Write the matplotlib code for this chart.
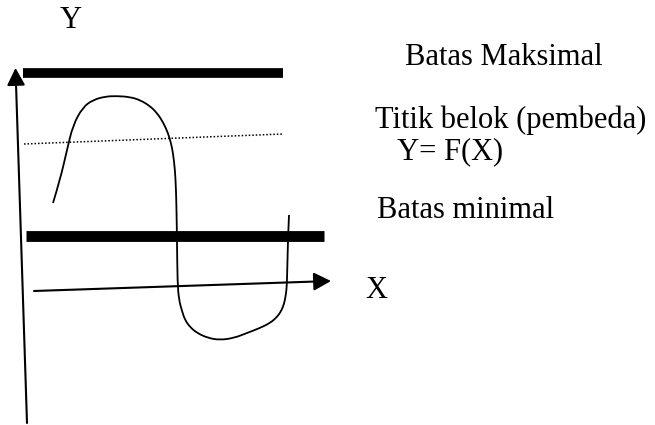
import matplotlib.pyplot as plt
from matplotlib.path import Path
from matplotlib.patches import PathPatch

# kurva Y = F(X) (koordinat, sumbu y terbalik)
curve_x = [53, 60, 67, 73, 83, 93, 105, 117, 130, 140, 150, 157, 163, 168, 171, 173, 175, 176,
           176.5, 177, 177.5, 179, 182, 185, 190, 197, 208, 220, 234, 247, 260, 270, 276,
           280, 283, 285, 286.5, 287, 287.5, 288, 289]
curve_y = [203, 180, 150, 125, 107, 100, 96.5, 96, 97, 100, 106, 113, 122, 133, 143, 153, 170, 190,
           210, 240, 283, 300, 311, 320, 327, 333, 338, 340, 338, 333, 328, 323, 318,
           313, 307, 300, 290, 280, 260, 240, 215]

# garis batas
batas_maks = ([23, 283], [72.5, 72.5])
batas_min = ([26, 324], [235.5, 235.5])
titik_belok = ([24, 283], [144, 134])

# sumbu
sumbu_y = ((27, 423), (15.5, 68))
sumbu_x = ((34, 291), (331, 281))

labels = ['Y', 'Batas Maksimal', 'Titik belok (pembeda)', '  Y= F(X)', 'Batas minimal', 'X']
label_x = [60, 405, 375, 383, 377, 365]
label_y = [28, 65, 128, 159, 218, 298]

fig = plt.figure(figsize=(6.55, 4.25), dpi=100)
ax = fig.add_axes([0, 0, 1, 1])
ax.set_xlim(0, 655)
ax.set_ylim(425, 0)
ax.axis('off')

ax.plot(batas_maks[0], batas_maks[1], color='black', lw=7, solid_capstyle='butt')
ax.plot(batas_min[0], batas_min[1], color='black', lw=7.8, solid_capstyle='butt')
ax.plot(titik_belok[0], titik_belok[1], color='black', lw=1.1, linestyle=(0, (1, 1.3)))

# kurva dihaluskan: titik bacaan sebagai titik kontrol kuadratik
pts = list(zip(curve_x, curve_y))
verts = [pts[0]]
codes = [Path.MOVETO]
for i in range(1, len(pts) - 1):
    mid = ((pts[i][0] + pts[i + 1][0]) / 2, (pts[i][1] + pts[i + 1][1]) / 2)
    verts += [pts[i], mid]
    codes += [Path.CURVE3, Path.CURVE3]
verts.append(pts[-1])
codes.append(Path.LINETO)
ax.add_patch(PathPatch(Path(verts, codes), fill=False, lw=1.3, edgecolor='black'))

for start, tip in [sumbu_y, sumbu_x]:
    ax.annotate('', xy=tip, xytext=start,
                arrowprops=dict(arrowstyle='-|>,head_length=1.05,head_width=0.55',
                                lw=1.5, color='black', shrinkA=0, shrinkB=0,
                                mutation_scale=10))

for t, x, y in zip(labels, label_x, label_y):
    ax.text(x, y, t, fontsize=22, family='Liberation Serif', ha='left', va='baseline')

plt.savefig('out.png', format='png', dpi=100)
